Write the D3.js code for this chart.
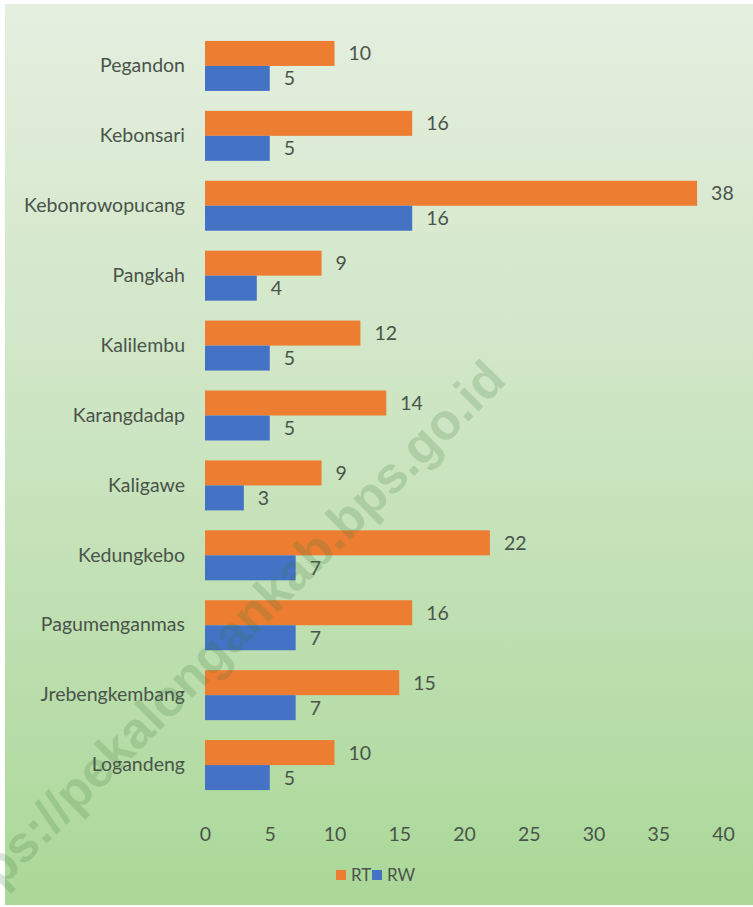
<!DOCTYPE html>
<html><head><meta charset="utf-8">
<script src="https://cdn.jsdelivr.net/npm/d3@7"></script>
<style>html,body{margin:0;padding:0;background:#fff;}svg{display:block;}</style>
</head><body>
<svg id="chart" width="753" height="907"></svg>
<script>
const categories = ["Pegandon","Kebonsari","Kebonrowopucang","Pangkah","Kalilembu","Karangdadap","Kaligawe","Kedungkebo","Pagumenganmas","Jrebengkembang","Logandeng"];
const rtValues = [10,16,38,9,12,14,9,22,16,15,10];
const rwValues = [5,5,16,4,5,5,3,7,7,7,5];
const seriesNames = ["RT","RW"];
const xTicks = [0,5,10,15,20,25,30,35,40];

const svg = d3.select("#chart");
const defs = svg.append("defs");
const grad = defs.append("linearGradient").attr("id","bg").attr("x1",0).attr("y1",0).attr("x2",0).attr("y2",1);
grad.append("stop").attr("offset","0%").attr("stop-color","#e5efe0");
grad.append("stop").attr("offset","50%").attr("stop-color","#cbe4c0");
grad.append("stop").attr("offset","100%").attr("stop-color","#aad898");
svg.append("rect").attr("x",5).attr("y",4).attr("width",748).attr("height",901).attr("fill","url(#bg)");

const font = "Lato, 'Open Sans', sans-serif";
const txtColor = "#4a544a";
const fs = 19.5;
const x = d3.scaleLinear().domain([0,40]).range([205,723]);
const y = d3.scaleBand().domain(categories).range([31,800]).paddingInner(0.285).paddingOuter(0.142);
const colors = {RT:"#ed7d31", RW:"#4472c4"};
const sub = d3.scaleBand().domain(seriesNames).range([0,y.bandwidth()]);

const data = categories.map((c,i)=>({cat:c, RT:rtValues[i], RW:rwValues[i]}));
const g = svg.append("g");
seriesNames.forEach(s=>{
  g.selectAll(".bar-"+s).data(data).enter().append("rect")
    .attr("x",x(0)).attr("y",d=>y(d.cat)+sub(s))
    .attr("width",d=>x(d[s])-x(0)).attr("height",sub.bandwidth())
    .attr("fill",colors[s]);
  g.selectAll(".lbl-"+s).data(data).enter().append("text")
    .attr("x",d=>x(d[s])+14).attr("y",d=>y(d.cat)+sub(s)+sub.bandwidth()/2)
    .attr("dy","0.36em").attr("font-family",font).attr("font-size",fs).attr("fill",txtColor)
    .text(d=>d[s]);
});

// category axis labels
const yAxis = d3.axisLeft(y).tickSize(0).tickPadding(20);
const ya = svg.append("g").attr("transform",`translate(${x(0)},0)`).call(yAxis);
ya.select(".domain").remove();
ya.selectAll("text").attr("font-family",font).attr("font-size",fs).attr("fill",txtColor);

// x axis
const xAxis = d3.axisBottom(x).tickValues(xTicks).tickSize(0).tickPadding(19);
const xa = svg.append("g").attr("transform","translate(0,808)").call(xAxis);
xa.select(".domain").remove();
xa.selectAll("text").attr("font-family",font).attr("font-size",fs).attr("fill",txtColor);

// legend
const legend = svg.append("g").attr("transform","translate(336,875)");
let lx = 0;
seriesNames.forEach(s=>{
  legend.append("rect").attr("x",lx).attr("y",-5).attr("width",10).attr("height",10).attr("fill",colors[s]);
  legend.append("text").attr("x",lx+15).attr("y",0).attr("dy","0.36em").attr("font-family",font).attr("font-size",17).attr("fill",txtColor).text(s);
  lx += 36;
});

// watermark
svg.append("text").attr("transform","translate(-45,935) rotate(-45)")
  .attr("font-family","'Liberation Sans', Arial, sans-serif").attr("font-weight","bold").attr("font-size",51)
  .attr("fill","#3c7a3c").attr("fill-opacity",0.2).text("https://pekalongankab.bps.go.id");
</script>
</body></html>
